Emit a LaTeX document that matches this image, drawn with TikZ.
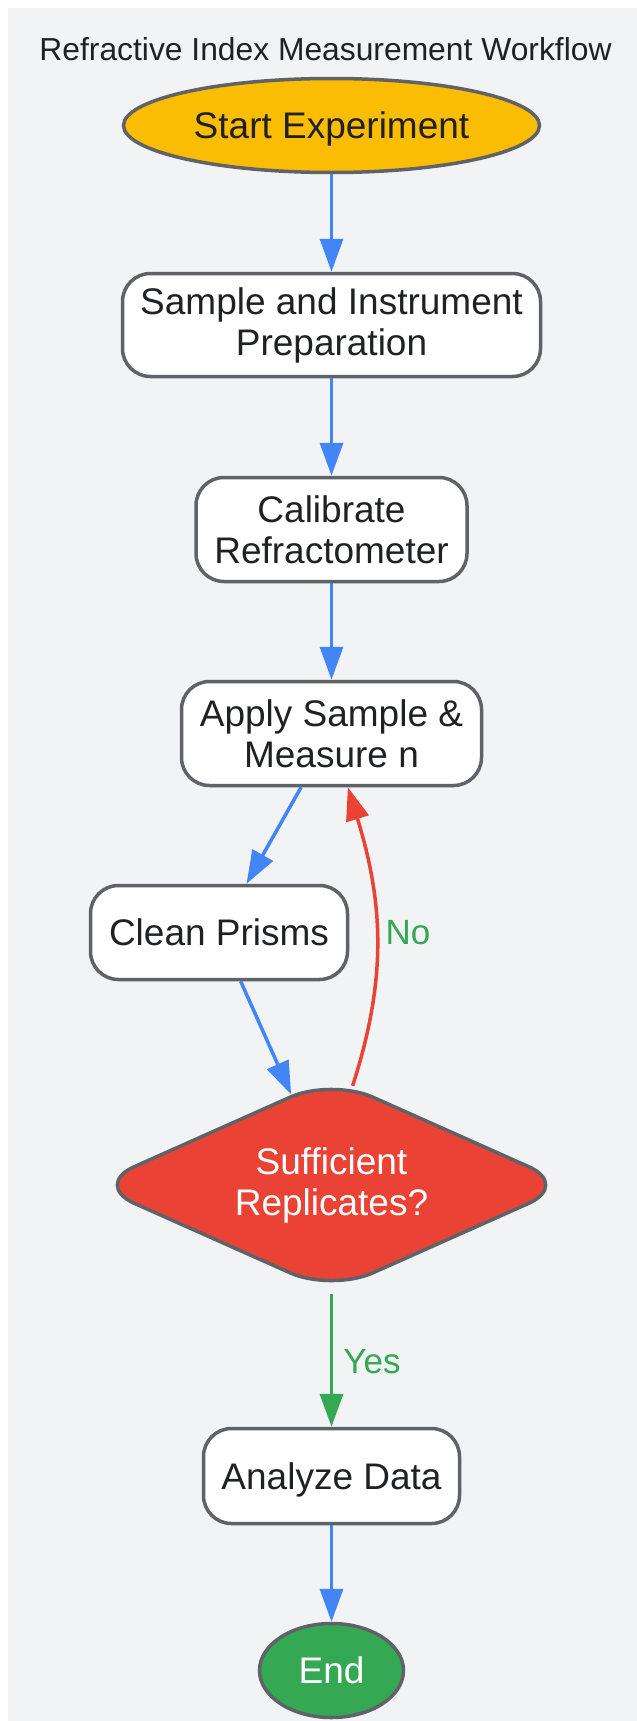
\documentclass[tikz,border=0pt]{standalone}
\usepackage{fontspec}
\setmainfont{Liberation Sans}
\usetikzlibrary{shapes.geometric, arrows.meta}

\definecolor{bgGray}{HTML}{F1F3F4}
\definecolor{lineGray}{HTML}{5F6368}
\definecolor{textDark}{HTML}{202124}
\definecolor{gYellow}{HTML}{FBBC04}
\definecolor{gRed}{HTML}{EA4335}
\definecolor{gGreen}{HTML}{34A853}
\definecolor{gBlue}{HTML}{4285F4}

\begin{document}
\begin{tikzpicture}[x=1pt, y=1pt,
    every node/.style={font=\fontsize{37}{41}\selectfont, text=textDark, align=center},
    box/.style={draw=lineGray, line width=3.5pt, fill=white, rounded corners=28pt, inner sep=4pt},
    oval/.style={ellipse, draw=lineGray, line width=3.5pt, inner sep=2pt, text depth=0pt},
    decision/.style={diamond, aspect=2.23, draw=lineGray, line width=3.5pt, fill=gRed, text=white,
        rounded corners=45pt, inner sep=0pt, minimum width=478pt, minimum height=214pt},
    lbl/.style={text=gGreen, font=\fontsize{35}{40}\selectfont},
    flow/.style={gBlue, line width=3.5pt, -{Triangle[length=33pt, width=23pt]}},
    flowNo/.style={flow, gRed},
    flowYes/.style={flow, gGreen}]

    % background and title
    \useasboundingbox (0,0) rectangle (637,-1721);
    \fill[bgGray] (8,-8) rectangle (637,-1721);
    \node[font=\fontsize{31.8}{38}\selectfont] (title) at (325.5,-49) {Refractive Index Measurement Workflow};

    % steps
    \node[oval, fill=gYellow, minimum width=416pt, minimum height=94pt] (start) at (331.5,-125.5) {Start Experiment};
    \node[box, minimum width=418pt, minimum height=103pt] (prep) at (331.5,-325) {Sample and Instrument\\Preparation};
    \node[box, minimum width=271pt, minimum height=104pt] (calib) at (331.5,-529.5) {Calibrate\\Refractometer};
    \node[box, minimum width=300pt, minimum height=104pt] (apply) at (331.5,-733.5) {Apply Sample \&\\Measure n};
    \node[box, minimum width=257pt, minimum height=94pt] (clean) at (219,-932.5) {Clean Prisms};

    % decision
    \node[decision] (check) at (331.5,-1185) {Sufficient\\Replicates?};

    % end of the workflow
    \node[box, minimum width=256pt, minimum height=95pt, text depth=0pt] (analyze) at (331.5,-1476) {Analyze Data};
    \node[oval, fill=gGreen, text=white, minimum width=144pt, minimum height=94pt] (stop) at (331.5,-1670.5) {End};

    % arrows
    \draw[flow] (start) -- (prep);
    \draw[flow] (prep) -- (calib);
    \draw[flow] (calib) -- (apply);
    \draw[flow] (apply) -- (clean);
    \draw[flow] (clean) -- (check);
    \draw[flowNo] (check.78) to[out=72, in=-73] (apply);
    \draw[flowYes] (check) -- (analyze);
    \draw[flow] (analyze) -- (stop);

    % branch labels
    \node[lbl] (no) at (408,-933) {No};
    \node[lbl] (yes) at (372,-1362) {Yes};
\end{tikzpicture}
\end{document}
